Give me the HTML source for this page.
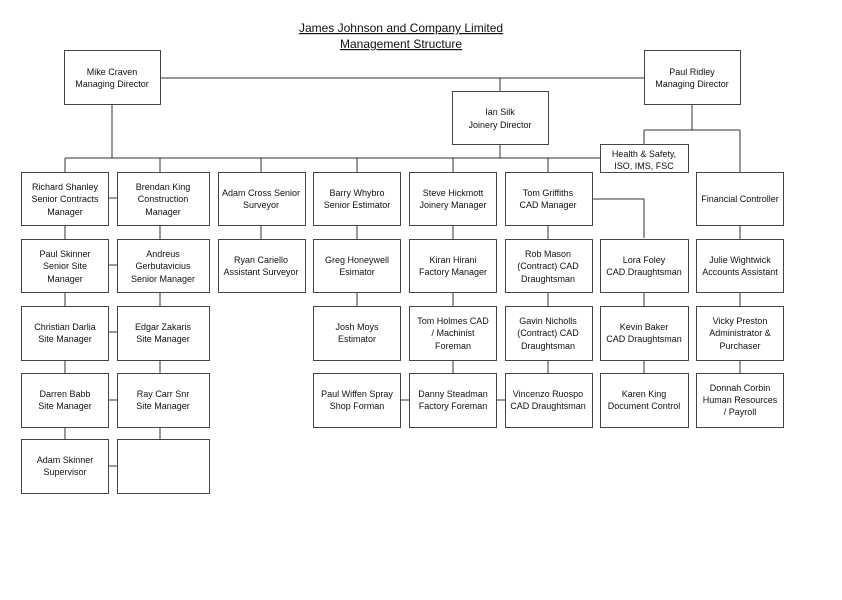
<!DOCTYPE html><html><head><style>
body{margin:0;background:#fff;width:842px;height:595px;overflow:hidden}
svg text{font-family:"Liberation Sans",sans-serif;font-size:9px;fill:#111;text-anchor:middle}
</style></head><body>
<svg width="842" height="595" viewBox="0 0 842 595" xmlns="http://www.w3.org/2000/svg">
<g stroke="#333" stroke-width="1" fill="none">
<path d="M160 78H644M500 78V91M112 104V158M65 158H600M65 158V172M160 158V172M261 158V172M357 158V172M453 158V172M548 158V172M500 144V158"/>
<path d="M692 104V130M644 130H740M644 130V144M740 130V172M592 199H644V238"/>
<path d="M108 198H117M108 265H117M108 332H117M108 400H117M108 466H117M400 400H409M496 400H505"/>
<path d="M65 225V239M65 292V306M65 360V373M65 427V439M160 225V239M160 292V306M160 360V373M160 427V439M261 225V239M357 225V239M357 292V306M453 225V239M453 292V306M453 360V373M548 225V239M548 292V306M548 360V373M644 292V306M644 360V373M740 225V239M740 292V306M740 360V373"/>
</g>
<g fill="#fff" stroke="#444" stroke-width="1">
<rect x="64.5" y="50.5" width="96" height="54"/><rect x="644.5" y="50.5" width="96" height="54"/>
<rect x="452.5" y="91.5" width="96" height="53"/><rect x="600.5" y="144.5" width="88" height="28"/>
<rect x="21.5" y="172.5" width="87" height="53"/><rect x="117.5" y="172.5" width="92" height="53"/><rect x="218.5" y="172.5" width="87" height="53"/><rect x="313.5" y="172.5" width="87" height="53"/><rect x="409.5" y="172.5" width="87" height="53"/><rect x="505.5" y="172.5" width="87" height="53"/><rect x="696.5" y="172.5" width="87" height="53"/>
<rect x="21.5" y="239.5" width="87" height="53"/><rect x="117.5" y="239.5" width="92" height="53"/><rect x="218.5" y="239.5" width="87" height="53"/><rect x="313.5" y="239.5" width="87" height="53"/><rect x="409.5" y="239.5" width="87" height="53"/><rect x="505.5" y="239.5" width="87" height="53"/><rect x="600.5" y="239.5" width="88" height="53"/><rect x="696.5" y="239.5" width="87" height="53"/>
<rect x="21.5" y="306.5" width="87" height="54"/><rect x="117.5" y="306.5" width="92" height="54"/><rect x="313.5" y="306.5" width="87" height="54"/><rect x="409.5" y="306.5" width="87" height="54"/><rect x="505.5" y="306.5" width="87" height="54"/><rect x="600.5" y="306.5" width="88" height="54"/><rect x="696.5" y="306.5" width="87" height="54"/>
<rect x="21.5" y="373.5" width="87" height="54"/><rect x="117.5" y="373.5" width="92" height="54"/><rect x="313.5" y="373.5" width="87" height="54"/><rect x="409.5" y="373.5" width="87" height="54"/><rect x="505.5" y="373.5" width="87" height="54"/><rect x="600.5" y="373.5" width="88" height="54"/><rect x="696.5" y="373.5" width="87" height="54"/>
<rect x="21.5" y="439.5" width="87" height="54"/><rect x="117.5" y="439.5" width="92" height="54"/>
</g>
<text x="401" y="32" style="font-size:12px" text-decoration="underline">James Johnson and Company Limited</text>
<text x="401" y="48" style="font-size:12px" text-decoration="underline">Management Structure</text>
<text x="112" y="75">Mike Craven</text><text x="112" y="87">Managing  Director</text>
<text x="692" y="75">Paul Ridley</text><text x="692" y="87">Managing Director</text>
<text x="500" y="115">Ian Silk</text><text x="500" y="128">Joinery Director</text>
<text x="644" y="157">Health &amp; Safety,</text><text x="644" y="169">ISO, IMS, FSC</text>
<text x="65" y="190">Richard Shanley</text><text x="65" y="202">Senior Contracts</text><text x="65" y="215">Manager</text>
<text x="163" y="190">Brendan King</text><text x="163" y="202">Construction</text><text x="163" y="215">Manager</text>
<text x="261" y="196">Adam Cross Senior</text><text x="261" y="208">Surveyor</text>
<text x="357" y="196">Barry Whybro</text><text x="357" y="208">Senior Estimator</text>
<text x="453" y="196">Steve Hickmott</text><text x="453" y="208">Joinery Manager</text>
<text x="548" y="196">Tom Griffiths</text><text x="548" y="208">CAD Manager</text>
<text x="740" y="202">Financial Controller</text>
<text x="65" y="257">Paul Skinner</text><text x="65" y="269">Senior Site</text><text x="65" y="282">Manager</text>
<text x="163" y="257">Andreus</text><text x="163" y="269">Gerbutavicius</text><text x="163" y="282">Senior Manager</text>
<text x="261" y="263">Ryan Cariello</text><text x="261" y="275">Assistant Surveyor</text>
<text x="357" y="263">Greg Honeywell</text><text x="357" y="275">Esimator</text>
<text x="453" y="263">Kiran Hirani</text><text x="453" y="275">Factory Manager</text>
<text x="548" y="257">Rob Mason</text><text x="548" y="269">(Contract) CAD</text><text x="548" y="282">Draughtsman</text>
<text x="644" y="263">Lora Foley</text><text x="644" y="275">CAD Draughtsman</text>
<text x="740" y="263">Julie Wightwick</text><text x="740" y="275">Accounts Assistant</text>
<text x="65" y="330">Christian Darlia</text><text x="65" y="342">Site Manager</text>
<text x="163" y="330">Edgar Zakaris</text><text x="163" y="342">Site Manager</text>
<text x="357" y="330">Josh Moys</text><text x="357" y="342">Estimator</text>
<text x="453" y="324">Tom Holmes   CAD</text><text x="453" y="336">/ Machinist</text><text x="453" y="349">Foreman</text>
<text x="548" y="324">Gavin Nicholls</text><text x="548" y="336">(Contract) CAD</text><text x="548" y="349">Draughtsman</text>
<text x="644" y="330">Kevin Baker</text><text x="644" y="342">CAD Draughtsman</text>
<text x="740" y="324">Vicky Preston</text><text x="740" y="336">Administrator &amp;</text><text x="740" y="349">Purchaser</text>
<text x="65" y="397">Darren Babb</text><text x="65" y="409">Site Manager</text>
<text x="163" y="397">Ray Carr Snr</text><text x="163" y="409">Site Manager</text>
<text x="357" y="397">Paul Wiffen Spray</text><text x="357" y="409">Shop Forman</text>
<text x="453" y="397">Danny   Steadman</text><text x="453" y="409">Factory Foreman</text>
<text x="548" y="397">Vincenzo Ruospo</text><text x="548" y="409">CAD Draughtsman</text>
<text x="644" y="397">Karen King</text><text x="644" y="409">Document Control</text>
<text x="740" y="391">Donnah Corbin</text><text x="740" y="403">Human Resources</text><text x="740" y="415">/ Payroll</text>
<text x="65" y="463">Adam Skinner</text><text x="65" y="475">Supervisor</text>
</svg>
</body></html>
